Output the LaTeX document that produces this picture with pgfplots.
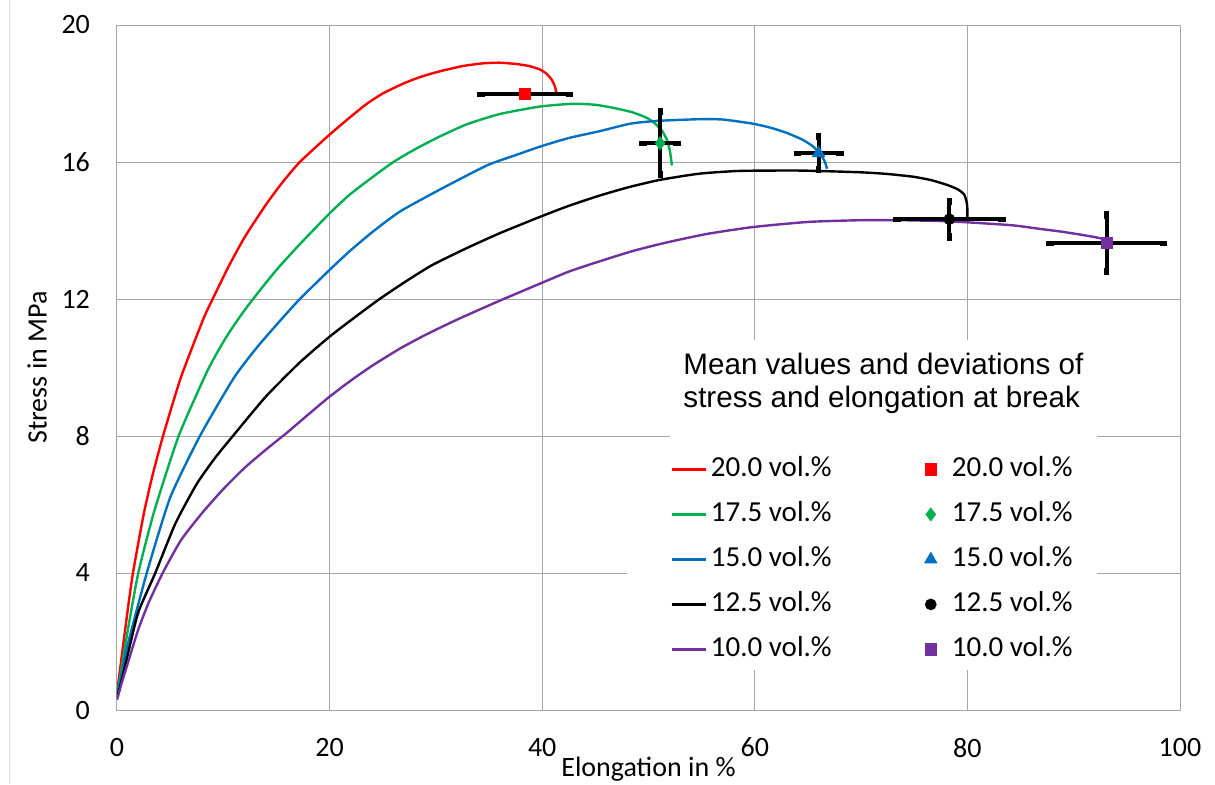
\documentclass[border=0pt]{standalone}
\usepackage{fontspec}
\setmainfont{Carlito}
\newfontfamily\arial{Liberation Sans}
\usepackage{pgfplots}
\pgfplotsset{compat=1.18}
\definecolor{cRed}{RGB}{255,0,0}
\definecolor{cGreen}{RGB}{0,176,80}
\definecolor{cBlue}{RGB}{0,112,192}
\definecolor{cPurple}{RGB}{112,48,160}
\definecolor{gridgray}{RGB}{166,166,166}
\pgfplotsset{
  markleg/.style={legend image code/.code={%
    \path[draw=none,fill=none] (0cm,0cm) (0.6cm,0cm);
    \draw[##1] plot[only marks] coordinates {(0.3cm,0cm)};}},
  curve/.style={line width=1.2pt, smooth, tension=0.35, forget plot},
}
\begin{document}
\begin{tikzpicture}
\path[use as bounding box] (0,0) rectangle (607.5pt,392pt);
\draw[black!15, line width=0.5pt] (4.5pt,0) -- (4.5pt,392pt);
\begin{axis}[
 at={(58.5pt,37pt)}, anchor=south west,
 scale only axis, width=531.5pt, height=342.5pt,
 xmin=0,xmax=100,ymin=0,ymax=20,
 xtick={0,20,...,100}, ytick={0,4,...,20},
 grid=major, major grid style={gridgray, line width=0.5pt},
 axis line style={gridgray, line width=0.5pt},
 major tick length=0pt,
 tick label style={font=\fontsize{14}{16}\selectfont},
 /pgf/number format/assume math mode=true,
 yticklabel style={xshift=-10pt},
 xticklabel style={yshift=-10.4pt},
 xlabel={Elongation in \%}, ylabel={Stress in MPa},
 label style={font=\fontsize{14}{16}\selectfont},
 xlabel style={at={([yshift=-33pt]axis description cs:0.5,0)}, anchor=base},
 ylabel style={at={([xshift=-40pt]axis description cs:0,0.5)}, anchor=center},
 legend columns=2,
 legend cell align=left,
 legend style={at={(0.5202,0.3708)}, anchor=north west, draw=none, fill=none,
   inner sep=0pt, font=\fontsize{14.5}{16}\selectfont,
   nodes={inner sep=0pt, text height=10pt, text depth=3pt},
   row sep=9.5pt, column sep=2pt,
   /tikz/every even column/.append style={column sep=41pt}},
 error bars/error bar style={black, line width=2pt},
 error bars/error mark options={black, line width=2.4pt, mark size=1.9pt},
]
% white boxes of legend and its title
\fill[white] (axis cs:48,1.17) rectangle (axis cs:92.2,7.74);
\fill[white] (axis cs:52,7.7) rectangle (axis cs:92.2,10.8);
\node[anchor=base west, inner sep=0pt, font=\arial\fontsize{14.8}{17}\selectfont] at (axis cs:53.25,9.81) {Mean values and deviations of};
\node[anchor=base west, inner sep=0pt, font=\arial\fontsize{14.8}{17}\selectfont] at (axis cs:53.25,8.82) {stress and elongation at break};

% stress-strain curves
\addplot[cRed, curve] coordinates {
(0,0.5) (0.5,1.7) (1,2.9) (1.5,4.0) (2.5,5.7) (3.3,6.8) (4.33,8.0) (6,9.7) (8.1,11.4) (9,12.0)
(10.5,12.95) (12,13.8) (14,14.75) (15.5,15.38) (17.2,16.0) (20,16.8) (21.9,17.3) (23.5,17.7) (25,18.0)
(27,18.3) (28.7,18.5) (30.4,18.65) (32.5,18.8) (34.4,18.88) (36,18.9) (37.6,18.86) (38.8,18.8)
(39.8,18.7) (40.4,18.58) (40.9,18.4) (41.2,18.2) (41.35,18.0)};
\addplot[cGreen, curve] coordinates {
(0,0.45) (0.5,1.35) (1,2.3) (2,4.0) (3.5,5.8) (5.8,8.0) (8.5,9.9) (10.2,10.85) (11.6,11.5) (12.8,12.0)
(15,12.85) (17.2,13.6) (20,14.5) (21.9,15.05) (24,15.55) (26,16.0) (28.2,16.4) (30.4,16.75) (32.9,17.1)
(36,17.4) (39.8,17.62) (42.9,17.7) (45,17.67) (46.7,17.58) (48.5,17.45) (49.9,17.28) (50.7,17.1)
(51.3,16.9) (51.8,16.6) (52.05,16.25) (52.2,15.9)};
\addplot[cBlue, curve] coordinates {
(0,0.4) (0.5,1.15) (1,1.9) (2.8,4.0) (5,6.2) (7.8,8.0) (11,9.7) (13.2,10.6) (15.3,11.35) (17.2,12.0)
(20,12.85) (21.9,13.4) (24,13.95) (26.6,14.55) (30.4,15.2) (34.8,15.9) (37.5,16.2) (39.8,16.45)
(42.5,16.7) (45.4,16.9) (48.3,17.12) (50.8,17.2) (54.8,17.25) (57,17.24) (59.8,17.12) (61.5,17.0)
(63,16.85) (64.5,16.65) (65.5,16.45) (66.2,16.22) (66.6,16.0) (66.8,15.8)};
\addplot[black, curve] coordinates {
(0,0.35) (0.5,0.95) (1,1.6) (2,2.85) (3.6,4.0) (5.5,5.45) (7.5,6.6) (9.2,7.35) (10.9,8.0) (14,9.15)
(17.2,10.15) (20,10.9) (22.3,11.45) (24.7,12.0) (27.2,12.52) (29.7,13.0) (33,13.5) (36,13.92)
(39.8,14.4) (42.5,14.72) (45.4,15.02) (48.2,15.27) (51.1,15.48) (54.8,15.66) (58.6,15.74)
(64.3,15.75) (69.9,15.7) (72.5,15.65) (74.9,15.57) (76.6,15.47) (78.1,15.33) (79.1,15.2)
(79.7,15.05) (79.95,14.8) (80,14.6) (80,14.37)};
\addplot[cPurple, curve] coordinates {
(0,0.3) (0.5,0.85) (1,1.35) (2,2.35) (3,3.15) (4.3,4.0) (6,4.95) (8,5.75) (10,6.45) (12,7.07) (14,7.6)
(16,8.1) (18,8.63) (20,9.15) (22,9.62) (24,10.05) (26.6,10.55) (29,10.95) (32,11.4) (36,11.95)
(39.8,12.45) (42.5,12.8) (45.4,13.1) (48.5,13.4) (51.7,13.65) (55.5,13.9) (59.8,14.1) (65,14.25)
(69.9,14.3) (74,14.3) (78.1,14.27) (81,14.22) (84.3,14.15) (87,14.04) (89,13.96) (91.2,13.85)
(93.1,13.72) (93.2,13.4)};

% mean values at break with deviations
\addplot[only marks, mark=square*, cRed, mark size=2.8pt, forget plot,
  error bars/.cd, x dir=both, x explicit, y dir=both, y explicit]
  coordinates {(38.4,17.98) +- (4.15,0.0)};
\addplot[only marks, mark=diamond*, cGreen, mark size=3.2pt, forget plot,
  error bars/.cd, x dir=both, x explicit, y dir=both, y explicit]
  coordinates {(51.1,16.55) +- (1.6,0.92)};
\addplot[only marks, mark=triangle*, cBlue, mark size=3.5pt, forget plot,
  error bars/.cd, x dir=both, x explicit, y dir=both, y explicit]
  coordinates {(66.0,16.26) +- (2.0,0.48)};
\addplot[only marks, mark=*, black, mark size=2.7pt, forget plot,
  error bars/.cd, x dir=both, x explicit, y dir=both, y explicit]
  coordinates {(78.3,14.33) +- (4.95,0.52)};
\addplot[only marks, mark=square*, cPurple, mark size=2.8pt, forget plot,
  error bars/.cd, x dir=both, x explicit, y dir=both, y explicit]
  coordinates {(93.1,13.63) +- (5.35,0.83)};

% legend
\addlegendimage{cRed, line width=1.2pt}\addlegendentry{20.0 vol.\%}
\addlegendimage{markleg, mark=square*, cRed, mark size=2.8pt}\addlegendentry{20.0 vol.\%}
\addlegendimage{cGreen, line width=1.2pt}\addlegendentry{17.5 vol.\%}
\addlegendimage{markleg, mark=diamond*, cGreen, mark size=3.2pt}\addlegendentry{17.5 vol.\%}
\addlegendimage{cBlue, line width=1.2pt}\addlegendentry{15.0 vol.\%}
\addlegendimage{markleg, mark=triangle*, cBlue, mark size=3.5pt}\addlegendentry{15.0 vol.\%}
\addlegendimage{black, line width=1.2pt}\addlegendentry{12.5 vol.\%}
\addlegendimage{markleg, mark=*, black, mark size=2.7pt}\addlegendentry{12.5 vol.\%}
\addlegendimage{cPurple, line width=1.2pt}\addlegendentry{10.0 vol.\%}
\addlegendimage{markleg, mark=square*, cPurple, mark size=2.8pt}\addlegendentry{10.0 vol.\%}
\end{axis}
\end{tikzpicture}
\end{document}
